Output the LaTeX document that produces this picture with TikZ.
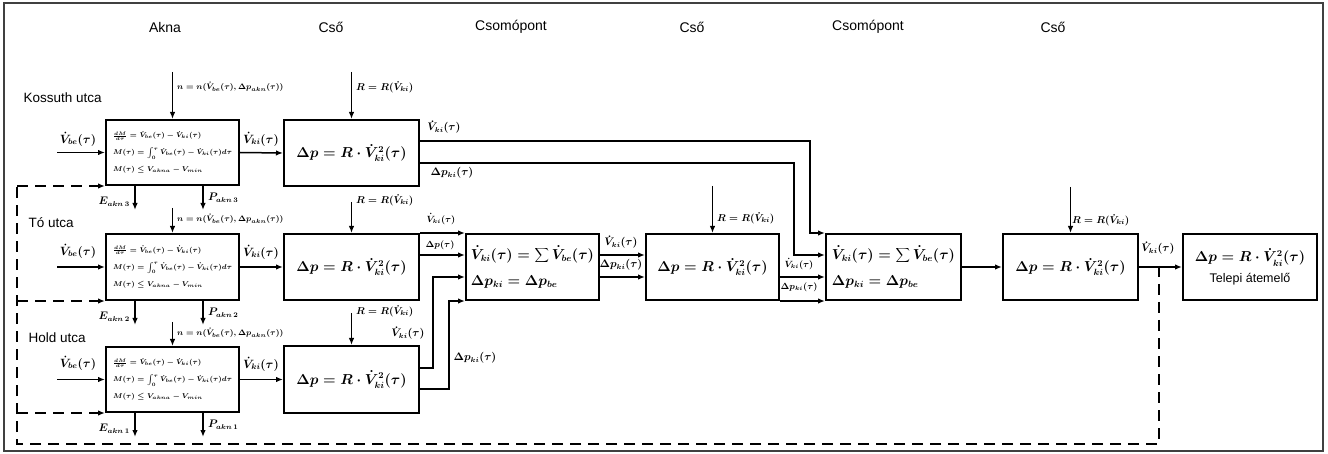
\documentclass[tikz,border=0pt]{standalone}
\usepackage[no-math]{fontspec}
\setmainfont{Liberation Sans}
\usetikzlibrary{arrows.meta}
\begin{document}
\begin{tikzpicture}[x=1pt,y=-1pt,
  box/.style={draw, line width=2pt, rectangle, inner sep=0pt, anchor=north west, align=center},
  eqbox/.style={box, font=\fontsize{13.5}{17}\selectfont\boldmath},
  aknabox/.style={box, align=left, font=\fontsize{7}{10}\selectfont\boldmath},
  arr/.style={line width=1.5pt, -{Latex[length=7pt,width=5.5pt]}},
  dsh/.style={line width=1.5pt, dash pattern=on 11pt off 7pt},
  dsharr/.style={dsh, -{Latex[length=7pt,width=5.5pt]}},
  ttl/.style={font=\fontsize{14}{16}\selectfont},
  street/.style={font=\fontsize{13.5}{16}\selectfont},
  lblA/.style={font=\fontsize{12}{14}\selectfont\boldmath, inner sep=1pt},
  lblB/.style={font=\fontsize{10.5}{12}\selectfont\boldmath, inner sep=1pt},
  lblC/.style={font=\fontsize{9}{10}\selectfont\boldmath, inner sep=1pt},
  lblT/.style={font=\fontsize{8.5}{10}\selectfont\boldmath, inner sep=1pt, anchor=west},
  lblR/.style={font=\fontsize{10}{12}\selectfont\boldmath, inner sep=1pt, anchor=west}
]
\useasboundingbox (0,0) rectangle (1328,454);
\fill[white] (0,0) rectangle (1328,454);
\draw[black!75, line width=1.2pt] (4,3) rectangle (1323,451);

% titles
\node[ttl] (t1) at (165,27) {Akna};
\node[ttl] (t2) at (331,27) {Cső};
\node[ttl] (t3) at (511,27) {Csomópont};
\node[ttl] (t4) at (692,27) {Cső};
\node[ttl] (t5) at (868,27) {Csomópont};
\node[ttl] (t6) at (1053,27) {Cső};

% street names
\node[street, anchor=west] (s1) at (20,98) {Kossuth utca};
\node[street, anchor=west] (s2) at (25,223) {Tó utca};
\node[street, anchor=west] (s3) at (25,338) {Hold utca};

% Akna boxes
\newcommand\aknatext{$\frac{dM}{d\tau}=\dot V_{be}(\tau)-\dot V_{ki}(\tau)$\\[7pt]
$M(\tau)=\int_0^{\tau}\dot V_{be}(\tau)-\dot V_{ki}(\tau)d\tau$\\[7pt]
$M(\tau)\le V_{akna}-V_{min}$}
\node[aknabox, minimum width=133pt, minimum height=65pt] (a1) at (105,119) {\aknatext};
\node[aknabox, minimum width=133pt, minimum height=66pt] (a2) at (105,233) {\aknatext};
\node[aknabox, minimum width=133pt, minimum height=65pt] (a3) at (105,346) {\aknatext};

% Cso boxes
\newcommand\csotext{$\Delta p=R\cdot\dot V_{ki}^{2}(\tau)$}
\node[eqbox, minimum width=135pt, minimum height=66pt] (c1) at (283,119) {\csotext};
\node[eqbox, minimum width=135pt, minimum height=66pt] (c2) at (283,233) {\csotext};
\node[eqbox, minimum width=135pt, minimum height=67pt] (c3) at (283,345) {\csotext};
\node[eqbox, minimum width=133pt, minimum height=66pt] (cm) at (645,233) {\csotext};
\node[eqbox, minimum width=135pt, minimum height=66pt] (cr) at (1002,233) {\csotext};

% Csomopont boxes
\newcommand\csptext{$\dot V_{ki}(\tau)=\mathop{\displaystyle\sum}\dot V_{be}(\tau)$\\[9pt]$\Delta p_{ki}=\Delta p_{be}$}
\node[eqbox, align=left, minimum width=133pt, minimum height=66pt] (k1) at (465,233) {\csptext};
\node[eqbox, align=left, minimum width=135pt, minimum height=66pt] (k2) at (825,233) {\csptext};

% Telepi atemelo
\node[eqbox, minimum width=134pt, minimum height=66pt] (tb) at (1182,233)
  {\csotext\\[4pt]{\fontsize{12.5}{14}\selectfont Telepi átemelő}};

% inputs to Akna
\foreach \a/\ly in {a1/139, a2/251, a3/363}{
  \draw[arr] ([xshift=-48pt]\a.west) -- (\a.west);
  \node[lblA] (vb\a) at (78,\ly) {$\dot V_{be}(\tau)$};
}
% Akna -> Cso
\draw[arr] (a1.east) -- (c1.west);
\draw[arr] (a2.east) -- (c2.west);
\draw[arr] (a3.east) -- (c3.west);
\node[lblA] (vk1) at (261,139) {$\dot V_{ki}(\tau)$};
\node[lblA] (vk2) at (261,252) {$\dot V_{ki}(\tau)$};
\node[lblA] (vk3) at (261,364) {$\dot V_{ki}(\tau)$};

% top arrows into Akna
\draw[arr] ([yshift=47pt]a1.north) -- (a1.north);
\draw[arr] ([yshift=25pt]a2.north) -- (a2.north);
\draw[arr] ([yshift=24pt]a3.north) -- (a3.north);
\newcommand\ntext{$n=n(\dot V_{be}(\tau),\Delta p_{akn}(\tau))$}
\node[lblT] (n1) at (176,87) {\ntext};
\node[lblT] (n2) at (176,219) {\ntext};
\node[lblT] (n3) at (176,333) {\ntext};

% top arrows into Cso
\newcommand\rtext{$R=R(\dot V_{ki})$}
\draw[arr] ([yshift=47pt]c1.north) -- (c1.north);
\draw[arr] ([yshift=31pt]c2.north) -- (c2.north);
\draw[arr] ([yshift=32pt]c3.north) -- (c3.north);
\draw[arr] ([yshift=47pt]cm.north) -- (cm.north);
\draw[arr] ([yshift=46pt]cr.north) -- (cr.north);
\node[lblR] (r1) at (355,87) {\rtext};
\node[lblR] (r2) at (355,200) {\rtext};
\node[lblR] (r3) at (355,311) {\rtext};
\node[lblR] (r4) at (716,218) {\rtext};
\node[lblR] (r5) at (1071,220) {\rtext};

% E / P outputs
\foreach \a/\n in {a1/3, a2/2, a3/1}{
  \draw[arr] ([xshift=30pt]\a.south west) -- ([xshift=30pt,yshift=-24pt]\a.south west);
  \draw[arr] ([xshift=98pt]\a.south west) -- ([xshift=98pt,yshift=-24pt]\a.south west);
  \node[lblB, anchor=east] (e\a) at ([xshift=26pt,yshift=-16pt]\a.south west) {$E_{akn\,\n}$};
  \node[lblB, anchor=west] (p\a) at ([xshift=102pt,yshift=-12pt]\a.south west) {$P_{akn\,\n}$};
}

% Cso1 -> Csomopont 2
\draw[arr] ([yshift=-22pt]c1.north east) -| ([xshift=-15pt]k2.north west) -- (k2.north west);
\draw[arr] ([yshift=-44pt]c1.north east) -| ([xshift=-31pt,yshift=-22pt]k2.north west) -- ([yshift=-22pt]k2.north west);
\node[lblB] (l1) at (444,127) {$\dot V_{ki}(\tau)$};
\node[lblB] (l2) at (452,173) {$\Delta p_{ki}(\tau)$};

% Cso2 -> Csomopont 1
\draw[arr] (c2.north east) -- (k1.north west);
\draw[arr] ([yshift=-22pt]c2.north east) -- ([yshift=-22pt]k1.north west);
\node[lblC] (l3) at (441,219) {$\dot V_{ki}(\tau)$};
\node[lblC] (l4) at (440,245) {$\Delta p(\tau)$};

% Cso3 -> Csomopont 1
\draw[arr] ([yshift=-23pt]c3.north east) -| ([xshift=-32pt,yshift=-44pt]k1.north west) -- ([yshift=-44pt]k1.north west);
\draw[arr] ([yshift=-44pt]c3.north east) -| ([xshift=-16pt]k1.south west) -- (k1.south west);
\node[lblB] (l5) at (408,333) {$\dot V_{ki}(\tau)$};
\node[lblB] (l6) at (475,358) {$\Delta p_{ki}(\tau)$};

% Csomopont 1 -> Cso middle
\draw[arr] ([yshift=-22pt]k1.north east) -- ([yshift=-22pt]cm.north west);
\draw[arr] ([yshift=-44pt]k1.north east) -- ([yshift=-44pt]cm.north west);
\node[lblB] (l7) at (621,242) {$\dot V_{ki}(\tau)$};
\node[lblB] (l8) at (621,265) {$\Delta p_{ki}(\tau)$};

% Cso middle -> Csomopont 2
\draw[arr] ([yshift=-44pt]cm.north east) -- ([yshift=-44pt]k2.north west);
\draw[arr] (cm.south east) -- (k2.south west);
\node[lblC] (l9) at (799,264) {$\dot V_{ki}(\tau)$};
\node[lblC] (l10) at (799,287) {$\Delta p_{ki}(\tau)$};

% Csomopont 2 -> Cso -> Telepi
\draw[arr] (k2.east) -- (cr.west);
\draw[arr] (cr.east) -- (tb.west);
\node[lblB] (l11) at (1158,248) {$\dot V_{ki}(\tau)$};

% dashed feedback
\coordinate (j) at (1159,266);
\coordinate (dl) at (17,444);
\draw[dsh] (j) |- (dl) -- (a1.south west -| dl);
\draw[dsharr] (a1.south west -| dl) -- (a1.south west);
\draw[dsharr] (a2.south west -| dl) -- (a2.south west);
\draw[dsharr] (a3.south west -| dl) -- (a3.south west);
\end{tikzpicture}
\end{document}
